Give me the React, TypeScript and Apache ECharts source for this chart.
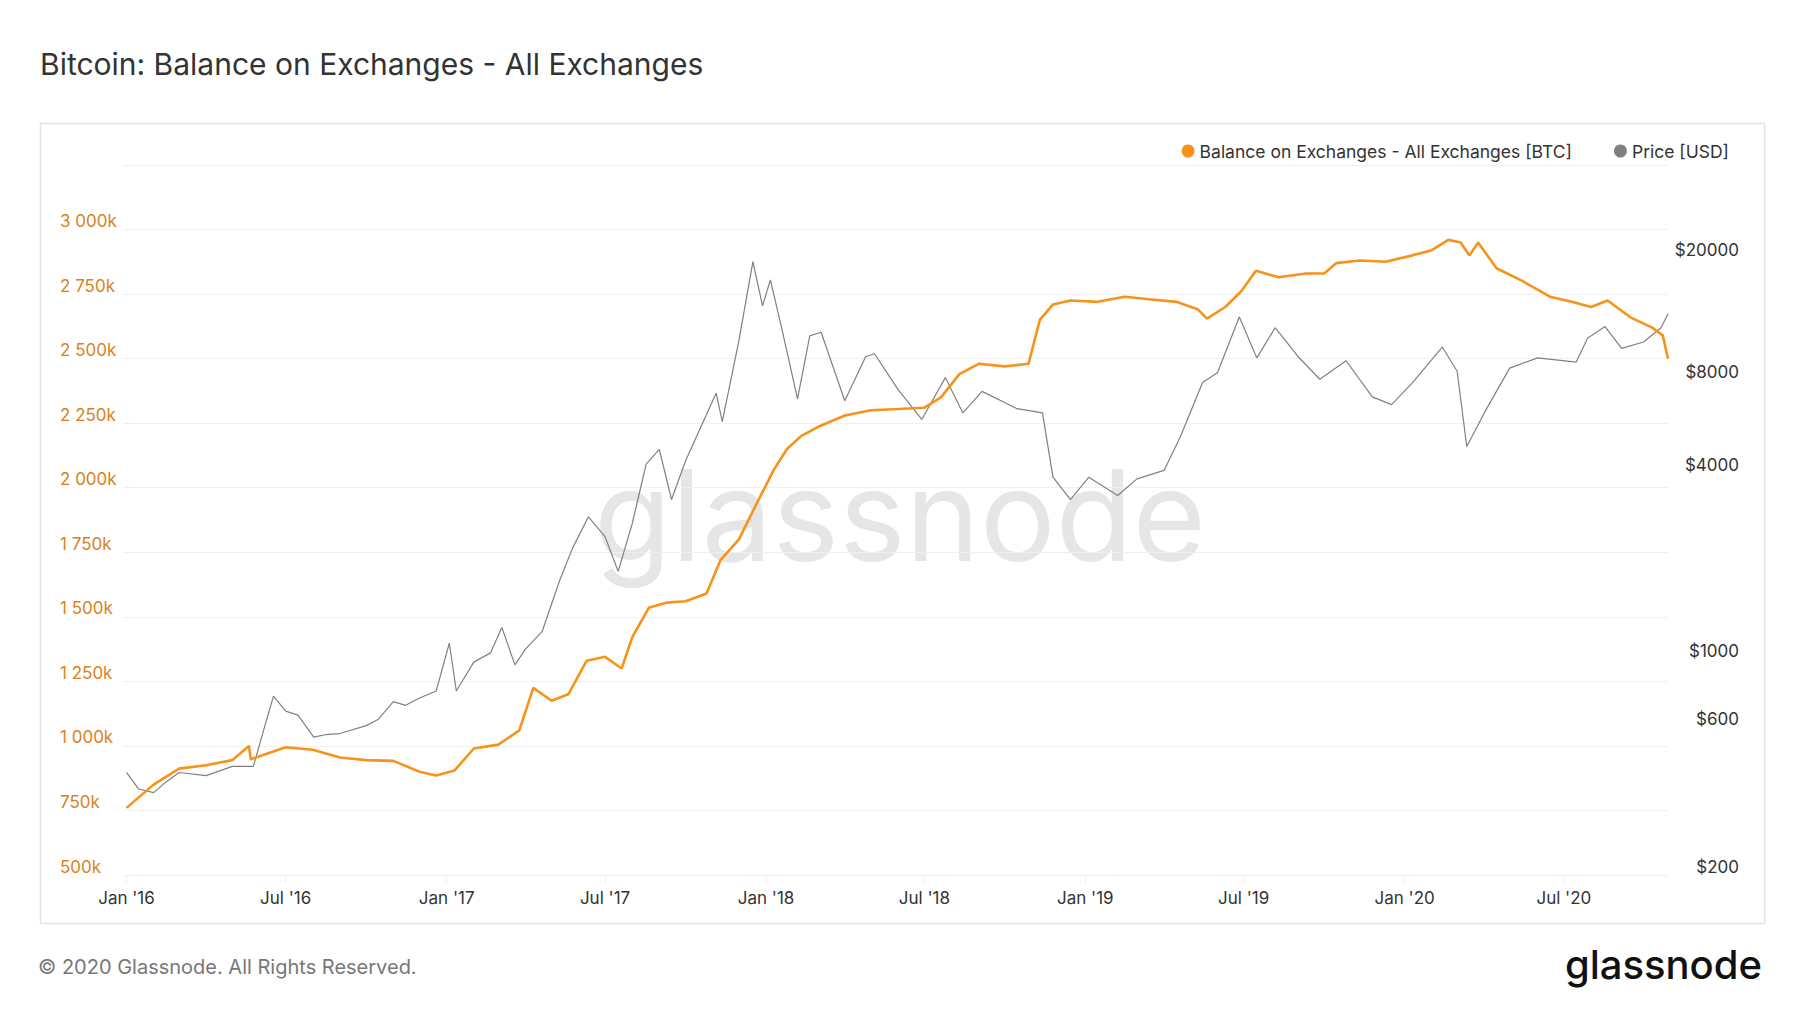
import { useRef, useEffect } from 'react';
import * as echarts from 'echarts';

// Balance on exchanges (thousand BTC)
const balanceDates = [
  '2016-01-01', '2016-02-01', '2016-03-01', '2016-04-01', '2016-05-01', '2016-05-20', '2016-05-22', '2016-06-01', '2016-07-01', '2016-08-01',
  '2016-09-01', '2016-10-01', '2016-11-01', '2016-12-01', '2016-12-20', '2017-01-10', '2017-02-01', '2017-03-01', '2017-03-25', '2017-04-10',
  '2017-05-01', '2017-05-20', '2017-06-10', '2017-07-01', '2017-07-20', '2017-08-01', '2017-08-20', '2017-09-10', '2017-10-01', '2017-10-25',
  '2017-11-10', '2017-12-01', '2017-12-20', '2018-01-10', '2018-01-25', '2018-02-10', '2018-03-01', '2018-04-01', '2018-05-01', '2018-06-01',
  '2018-07-01', '2018-07-20', '2018-08-10', '2018-09-01', '2018-10-01', '2018-10-28', '2018-11-10', '2018-11-25', '2018-12-15', '2019-01-15',
  '2019-02-15', '2019-03-15', '2019-04-15', '2019-05-10', '2019-05-20', '2019-06-10', '2019-06-28', '2019-07-15', '2019-08-10', '2019-09-10',
  '2019-10-01', '2019-10-15', '2019-11-10', '2019-12-10', '2020-01-10', '2020-02-01', '2020-02-20', '2020-03-05', '2020-03-15', '2020-03-25',
  '2020-04-15', '2020-05-15', '2020-06-15', '2020-07-10', '2020-08-01', '2020-08-20', '2020-09-15', '2020-10-10', '2020-10-22', '2020-10-28',
];
const balanceValues = [
  760, 850, 912, 925, 945, 1000, 948, 960, 995, 985,
  955, 945, 942, 900, 885, 905, 990, 1005, 1060, 1225,
  1175, 1200, 1330, 1345, 1300, 1420, 1535, 1555, 1560, 1590,
  1720, 1800, 1930, 2070, 2150, 2200, 2235, 2280, 2300, 2305,
  2310, 2350, 2440, 2480, 2470, 2480, 2650, 2710, 2725, 2720,
  2740, 2730, 2720, 2690, 2655, 2700, 2760, 2840, 2815, 2830,
  2830, 2870, 2880, 2875, 2900, 2920, 2960, 2950, 2900, 2950,
  2850, 2800, 2740, 2720, 2700, 2725, 2660, 2620, 2590, 2500,
];

// Price in USD
const priceDates = [
  '2016-01-01', '2016-01-15', '2016-02-01', '2016-02-15', '2016-03-01', '2016-04-01', '2016-05-01', '2016-05-25', '2016-06-05', '2016-06-17',
  '2016-07-01', '2016-07-15', '2016-08-02', '2016-08-15', '2016-09-01', '2016-10-01', '2016-10-15', '2016-11-01', '2016-11-15', '2016-12-01',
  '2016-12-20', '2017-01-04', '2017-01-12', '2017-02-01', '2017-02-20', '2017-03-05', '2017-03-20', '2017-04-01', '2017-04-20', '2017-05-10',
  '2017-05-25', '2017-06-12', '2017-07-01', '2017-07-16', '2017-08-01', '2017-08-17', '2017-09-01', '2017-09-15', '2017-10-01', '2017-10-20',
  '2017-11-05', '2017-11-12', '2017-12-01', '2017-12-17', '2017-12-28', '2018-01-06', '2018-01-20', '2018-02-06', '2018-02-20', '2018-03-05',
  '2018-04-01', '2018-04-25', '2018-05-05', '2018-06-01', '2018-06-28', '2018-07-25', '2018-08-14', '2018-09-05', '2018-10-15', '2018-11-13',
  '2018-11-25', '2018-12-15', '2019-01-05', '2019-02-07', '2019-03-01', '2019-04-01', '2019-04-20', '2019-05-15', '2019-06-01', '2019-06-26',
  '2019-07-16', '2019-08-06', '2019-09-01', '2019-09-26', '2019-10-26', '2019-11-25', '2019-12-17', '2020-01-10', '2020-02-13', '2020-03-01',
  '2020-03-12', '2020-04-01', '2020-04-30', '2020-06-01', '2020-07-15', '2020-07-28', '2020-08-17', '2020-09-05', '2020-09-30', '2020-10-20',
  '2020-10-28',
];
const priceValues = [
  430, 380, 370, 400, 430, 420, 450, 450, 580, 760,
  680, 660, 560, 570, 575, 610, 640, 730, 710, 750,
  790, 1130, 790, 980, 1050, 1270, 960, 1080, 1230, 1800,
  2300, 2900, 2500, 1930, 2750, 4300, 4800, 3300, 4400, 5800,
  7300, 5900, 10800, 19500, 14000, 17000, 11500, 7000, 11200, 11500,
  6900, 9600, 9800, 7500, 6000, 8200, 6300, 7400, 6500, 6300,
  3900, 3300, 3900, 3400, 3850, 4100, 5300, 7900, 8500, 12900,
  9500, 11900, 9600, 8100, 9300, 7100, 6700, 7900, 10300, 8600,
  4900, 6300, 8800, 9500, 9200, 11000, 12000, 10200, 10700, 11900,
  13200,
];

const xTicks = ['2016-01-01', '2016-07-01', '2017-01-01', '2017-07-01', '2018-01-01', '2018-07-01', '2019-01-01', '2019-07-01', '2020-01-01', '2020-07-01'];
const priceTicks = [200, 600, 1000, 4000, 8000, 20000];

const ts = (d: string) => Date.parse(d + 'T00:00:00Z');
const months = ['Jan', 'Feb', 'Mar', 'Apr', 'May', 'Jun', 'Jul', 'Aug', 'Sep', 'Oct', 'Nov', 'Dec'];
const font = 'Inter, "Noto Sans", sans-serif';

export default function App() {
  const ref = useRef<HTMLDivElement>(null);

  useEffect(() => {
    if (!ref.current) return;
    const chart = echarts.init(ref.current, undefined, { renderer: 'svg' });
    const xVals = xTicks.map(ts);
    chart.setOption({
      animation: false,
      textStyle: { fontFamily: font },
      title: {
        text: 'Bitcoin: Balance on Exchanges - All Exchanges',
        left: 35, top: 44,
        textStyle: { fontSize: 30, fontWeight: 'normal', color: '#333', fontFamily: font },
      },
      legend: {
        right: 66, top: 137, icon: 'circle', itemWidth: 13, itemHeight: 13, itemGap: 42,
        textStyle: { fontSize: 17.5, color: '#333', fontFamily: font },
        data: ['Balance on Exchanges - All Exchanges [BTC]', 'Price [USD]'],
      },
      grid: { left: 123, right: 132, top: 165, bottom: 138 },
      xAxis: {
        type: 'value',
        min: ts('2015-12-28'), max: ts('2020-10-28'),
        splitLine: { show: false },
        axisLine: { show: false },
        axisTick: { show: true, customValues: xVals, length: 8, lineStyle: { color: '#eee' } },
        axisLabel: {
          customValues: xVals, color: '#333', fontSize: 17, margin: 14,
          formatter: (v: number) => {
            const d = new Date(v);
            return `${months[d.getUTCMonth()]} '${String(d.getUTCFullYear()).slice(2)}`;
          },
        },
      },
      yAxis: [
        {
          type: 'value', min: 500, max: 3250, interval: 250, position: 'left',
          splitLine: { lineStyle: { color: '#f0f0f0' } },
          axisLine: { show: false }, axisTick: { show: false },
          axisLabel: {
            color: '#d9821c', fontSize: 17, align: 'left', margin: 63, verticalAlign: 'bottom',
            formatter: (v: number) => (v >= 3250 ? '' : v >= 1000 ? `${Math.floor(v / 1000)} ${String(v % 1000).padStart(3, '0')}k` : `${v}k`),
          },
        },
        {
          type: 'value', min: Math.log10(200), max: Math.log10(40100), position: 'right',
          splitLine: { show: false }, axisLine: { show: false }, axisTick: { show: false },
          axisLabel: {
            customValues: priceTicks.map((p) => Math.log10(p)),
            color: '#333', fontSize: 17, align: 'right', margin: 71, verticalAlign: 'bottom',
            formatter: (v: number) => `$${Math.round(Math.pow(10, v))}`,
          },
        },
      ],
      graphic: [
        {
          type: 'rect', left: 38, top: 121, shape: { width: 1724, height: 800 }, silent: true, z: -10,
          style: { fill: 'none', stroke: '#e3e3e3', lineWidth: 1.5 },
        },
        {
          type: 'text', left: 'center', top: 452, z: -5, silent: true,
          style: { text: 'glassnode', fontSize: 126, fontFamily: font, fill: '#e6e6e6' },
        },
        {
          type: 'text', left: 38, top: 957,
          style: { text: '© 2020 Glassnode. All Rights Reserved.', fontSize: 20, fontFamily: font, fill: '#777' },
        },
        {
          type: 'text', right: 38, top: 944,
          style: { text: 'glassnode', fontSize: 40, fontWeight: 500, fontFamily: font, fill: '#111' },
        },
      ],
      series: [
        {
          name: 'Price [USD]', type: 'line', yAxisIndex: 1, showSymbol: false, z: 2,
          data: priceDates.map((d, i) => [ts(d), Math.log10(priceValues[i])]),
          lineStyle: { color: '#808080', width: 1.2 }, itemStyle: { color: '#808080' },
        },
        {
          name: 'Balance on Exchanges - All Exchanges [BTC]', type: 'line', yAxisIndex: 0, showSymbol: false, z: 3,
          data: balanceDates.map((d, i) => [ts(d), balanceValues[i]]),
          lineStyle: { color: '#f7931a', width: 2.6 }, itemStyle: { color: '#f7931a' },
        },
      ],
    });
    return () => chart.dispose();
  }, []);

  return <div ref={ref} style={{ width: 1800, height: 1013, margin: -8, background: '#fff' }} />;
}
